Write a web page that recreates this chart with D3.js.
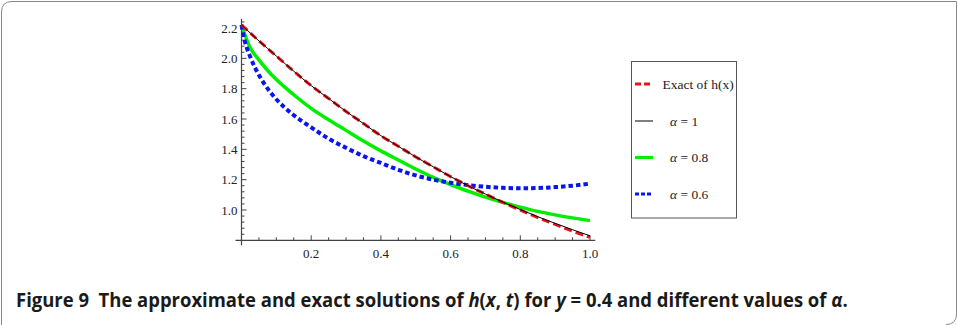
<!DOCTYPE html>
<html>
<head>
<meta charset="utf-8">
<script src="https://cdn.jsdelivr.net/npm/d3@7"></script>
<style>
  body { margin: 0; background: #fff; }
  svg { display: block; }
</style>
</head>
<body>
<svg id="chart" width="958" height="325"></svg>
<script>
// x positions (shared grid) and series
const xGrid = [0, 0.05, 0.1, 0.15, 0.2, 0.25, 0.3, 0.35, 0.4, 0.45, 0.5,
               0.55, 0.6, 0.65, 0.7, 0.75, 0.8, 0.85, 0.9, 0.95, 1.0];
const exactVals = [2.22, 2.115, 2.015, 1.915, 1.82, 1.735, 1.65, 1.57, 1.49, 1.42, 1.35,
                   1.285, 1.22, 1.16, 1.105, 1.05, 1.00, 0.95, 0.905, 0.86, 0.82];
const alpha1Vals = [2.22, 2.115, 2.015, 1.915, 1.82, 1.735, 1.65, 1.57, 1.49, 1.42, 1.35,
                    1.285, 1.22, 1.16, 1.105, 1.052, 1.003, 0.956, 0.912, 0.87, 0.83];
const alpha08X = [0, 0.025, 0.05, 0.075, 0.1, 0.15, 0.2, 0.25, 0.3, 0.35, 0.4, 0.45, 0.5,
                  0.55, 0.6, 0.65, 0.7, 0.75, 0.8, 0.85, 0.9, 0.95, 1.0];
const alpha08Vals = [2.22, 2.07, 1.99, 1.92, 1.86, 1.76, 1.67, 1.595, 1.525, 1.455, 1.39, 1.33, 1.27,
                     1.215, 1.168, 1.124, 1.085, 1.05, 1.019, 0.991, 0.968, 0.948, 0.93];
const alpha06X = [0, 0.005, 0.01, 0.025, 0.05, 0.075, 0.1, 0.15, 0.2, 0.25, 0.3, 0.35, 0.4,
                  0.45, 0.5, 0.55, 0.6, 0.65, 0.7, 0.75, 0.8, 0.85, 0.9, 0.95, 1.0];
const alpha06Vals = [2.22, 2.16, 2.11, 2.01, 1.89, 1.80, 1.73, 1.625, 1.545, 1.47, 1.41, 1.355, 1.31,
                     1.265, 1.228, 1.2, 1.18, 1.164, 1.153, 1.146, 1.143, 1.145, 1.151, 1.16, 1.174];

const xTicks = [0.2, 0.4, 0.6, 0.8, 1.0];
const yTicks = [1.0, 1.2, 1.4, 1.6, 1.8, 2.0, 2.2];
const legendLabels = ["Exact of h(x)", "α = 1", "α = 0.8", "α = 0.6"];

const svg = d3.select("#chart");

// figure frame (rounded top-left and bottom-right corners)
svg.append("path")
    .attr("d", "M1.5,340 L1.5,12 Q1.5,1.5 12,1.5 L956.5,1.5 L956.5,314 Q956.5,324.5 946,324.5")
    .attr("fill", "none")
    .attr("stroke", "#8a8a8a")
    .attr("stroke-width", 1);

const x = d3.scaleLinear().domain([0, 1]).range([241.5, 590]);
const y = d3.scaleLinear().domain([1.0, 2.2]).range([210, 28]);

const axisColor = "#444";
const serif = "'Liberation Serif', 'DejaVu Serif', serif";
const g = svg.append("g");

// axes lines
g.append("line")
    .attr("x1", x(0) - 6).attr("x2", x(1.015))
    .attr("y1", y(0.8)).attr("y2", y(0.8))
    .attr("stroke", axisColor).attr("stroke-width", 1.2);
g.append("line")
    .attr("x1", x(0)).attr("x2", x(0))
    .attr("y1", y(0.8) + 5).attr("y2", y(2.26))
    .attr("stroke", axisColor).attr("stroke-width", 1.2);

// minor + major ticks on x axis
d3.range(0.05, 1.001, 0.05).forEach(v => {
    const major = Math.abs(v * 5 - Math.round(v * 5)) < 1e-6;
    g.append("line")
        .attr("x1", x(v)).attr("x2", x(v))
        .attr("y1", y(0.8)).attr("y2", y(0.8) - (major ? 5 : 3))
        .attr("stroke", axisColor).attr("stroke-width", 1);
});
// minor + major ticks on y axis
d3.range(0.84, 2.261, 0.04).forEach(v => {
    const major = Math.abs(v * 5 - Math.round(v * 5)) < 1e-6;
    g.append("line")
        .attr("x1", x(0)).attr("x2", x(0) + (major ? 5 : 3))
        .attr("y1", y(v)).attr("y2", y(v))
        .attr("stroke", axisColor).attr("stroke-width", 1);
});

// tick labels
g.selectAll(".xlab")
    .data(xTicks)
    .enter()
    .append("text")
    .attr("x", d => x(d))
    .attr("y", 258)
    .attr("text-anchor", "middle")
    .style("font-family", serif)
    .style("font-size", "13px")
    .attr("fill", "#222")
    .text(d => d.toFixed(1));

g.selectAll(".ylab")
    .data(yTicks)
    .enter()
    .append("text")
    .attr("x", 237.5)
    .attr("y", d => y(d) + 4.5)
    .attr("text-anchor", "end")
    .style("font-family", serif)
    .style("font-size", "13px")
    .attr("fill", "#222")
    .text(d => d.toFixed(1));

// curves
const line = (xs) => d3.line()
    .x((d, i) => x(xs[i]))
    .y(d => y(d))
    .curve(d3.curveMonotoneX);

const series = [
    { xs: xGrid, vals: exactVals, color: "#e8141c", width: 3, dash: "8,4" },
    { xs: xGrid, vals: alpha1Vals, color: "#000", width: 1, dash: null },
    { xs: alpha08X, vals: alpha08Vals, color: "#00ee00", width: 3.5, dash: null },
    { xs: alpha06X, vals: alpha06Vals, color: "#0a14f0", width: 4, dash: "4.5,3" }
];

// draw order: green, blue, red, black on top
[2, 3, 0, 1].forEach(i => {
    const s = series[i];
    g.append("path")
        .attr("d", line(s.xs)(s.vals))
        .attr("fill", "none")
        .attr("stroke", s.color)
        .attr("stroke-width", s.width)
        .attr("stroke-dasharray", s.dash);
});

// legend
const leg = svg.append("g");
leg.append("rect")
    .attr("x", 631.5).attr("y", 61.5)
    .attr("width", 105).attr("height", 156.5)
    .attr("fill", "#fff")
    .attr("stroke", "#555")
    .attr("stroke-width", 1);

const legY = [84, 121, 157.5, 194];
const legDash = ["6,3", null, null, "4,2"];
legendLabels.forEach((lab, i) => {
    const s = series[i];
    leg.append("line")
        .attr("x1", 635).attr("x2", 653)
        .attr("y1", legY[i]).attr("y2", legY[i])
        .attr("stroke", s.color)
        .attr("stroke-width", i === 1 ? 1 : 3)
        .attr("stroke-dasharray", legDash[i]);
    const t = leg.append("text")
        .attr("x", i === 0 ? 662.5 : 670)
        .attr("y", legY[i] + 4.5)
        .style("font-family", serif)
        .style("font-size", "13.5px")
        .attr("fill", "#222");
    if (i === 0) {
        t.text(lab);
    } else {
        t.append("tspan").style("font-style", "italic").text("α");
        t.append("tspan").text(lab.slice(1));
    }
});

// caption
const cap = svg.append("text")
    .attr("x", 0)
    .attr("y", 0)
    .style("font-family", "'Open Sans', 'Noto Sans', sans-serif")
    .style("font-weight", "bold")
    .style("font-size", "19.5px")
    .attr("fill", "#1a1a1a");
const parts = [
    ["Figure 9\u00a0\u00a0The approximate and exact solutions of ", false],
    ["h", true], ["(", false], ["x", true], [", ", false], ["t", true],
    [") for ", false], ["y", true], [" = 0.4 and different values of ", false],
    ["α", true], [".", false]
];
parts.forEach(([txt, it]) => {
    cap.append("tspan")
        .style("font-style", it ? "italic" : "normal")
        .text(txt);
});
// squeeze caption horizontally to its width in the reference
const capW = cap.node().getComputedTextLength();
cap.attr("transform", `translate(16,306.5) scale(${(832 / capW).toFixed(4)},1)`);
</script>
</body>
</html>
